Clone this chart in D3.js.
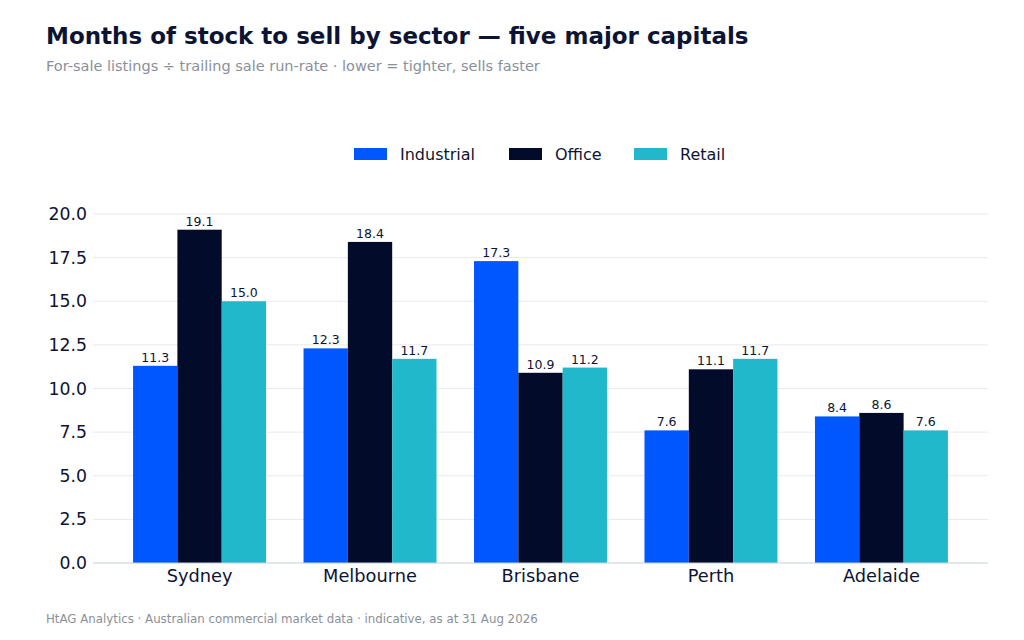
<!DOCTYPE html>
<html lang="en">
<head>
  <meta charset="UTF-8">
  <title>Months of stock to sell by sector</title>
  <script src="https://cdn.jsdelivr.net/npm/d3@7"></script>
  <style>
    body { margin: 0; background: #fff; font-family: "DejaVu Sans", sans-serif; }
  </style>
</head>
<body>
  <svg id="chart"></svg>
  <script>
    // data
    const cities = ['Sydney', 'Melbourne', 'Brisbane', 'Perth', 'Adelaide'];
    const sectors = ['Industrial', 'Office', 'Retail'];
    const industrial = [11.3, 12.3, 17.3, 7.6, 8.4];
    const office = [19.1, 18.4, 10.9, 11.1, 8.6];
    const retail = [15.0, 11.7, 11.2, 11.7, 7.6];
    const yTicks = [0, 2.5, 5, 7.5, 10, 12.5, 15, 17.5, 20];

    const seriesBySector = { Industrial: industrial, Office: office, Retail: retail };
    const colors = { Industrial: '#0057ff', Office: '#020b29', Retail: '#22b8cc' };

    const width = 1024, height = 640;
    const margin = { left: 93, right: 36, top: 214, bottom: 77 };

    const svg = d3.select('#chart').attr('width', width).attr('height', height);

    svg.append('text')
      .attr('x', 46).attr('y', 44)
      .attr('font-size', 23).attr('font-weight', 'bold')
      .attr('fill', '#0d1433')
      .text('Months of stock to sell by sector — five major capitals');

    svg.append('text')
      .attr('x', 46).attr('y', 71)
      .attr('font-size', 14.5)
      .attr('fill', '#8a9099')
      .text('For-sale listings ÷ trailing sale run-rate · lower = tighter, sells faster');

    svg.append('text')
      .attr('x', 46).attr('y', 623)
      .attr('font-size', 11.8)
      .attr('fill', '#8a9099')
      .text('HtAG Analytics · Australian commercial market data · indicative, as at 31 Aug 2026');

    // legend
    const legendX = [354, 509, 634];
    const legend = svg.append('g').selectAll('g')
      .data(sectors)
      .enter()
      .append('g')
      .attr('transform', (d, i) => `translate(${legendX[i]},154)`);
    legend.append('rect')
      .attr('x', 0).attr('y', -6)
      .attr('width', 33).attr('height', 12)
      .attr('fill', d => colors[d]);
    legend.append('text')
      .attr('x', 46).attr('y', 5.5)
      .attr('font-size', 16)
      .attr('fill', '#0d1433')
      .text(d => d);

    // scales
    const plotBottom = height - margin.bottom;
    const y = d3.scaleLinear()
      .domain([0, 20])
      .range([plotBottom, margin.top]);

    const x0 = d3.scaleBand()
      .domain(cities)
      .range([margin.left, width - margin.right])
      .paddingInner(0.22)
      .paddingOuter(0.235);

    const x1 = d3.scaleBand()
      .domain(sectors)
      .range([0, x0.bandwidth()]);

    // grid
    svg.append('g').selectAll('line')
      .data(yTicks.filter(t => t > 0))
      .enter()
      .append('line')
      .attr('x1', margin.left).attr('x2', width - margin.right)
      .attr('y1', d => y(d)).attr('y2', d => y(d))
      .attr('stroke', '#e6e9ee').attr('stroke-width', 1);

    // y axis
    const yAxis = svg.append('g')
      .attr('transform', `translate(${margin.left},0)`)
      .call(d3.axisLeft(y).tickValues(yTicks).tickFormat(d3.format('.1f')).tickSize(0).tickPadding(6));
    yAxis.select('.domain').remove();
    yAxis.selectAll('text')
      .attr('font-family', '"DejaVu Sans", sans-serif')
      .attr('font-size', 17.3)
      .attr('fill', '#0d1433');

    // bars
    const groups = svg.append('g').selectAll('g')
      .data(cities)
      .enter()
      .append('g')
      .attr('transform', d => `translate(${x0(d)},0)`);

    const barData = (city, i) => sectors.map(s => ({ sector: s, value: seriesBySector[s][i] }));

    groups.selectAll('rect')
      .data(barData)
      .enter()
      .append('rect')
      .attr('x', d => x1(d.sector))
      .attr('y', d => y(d.value))
      .attr('width', x1.bandwidth())
      .attr('height', d => plotBottom - y(d.value))
      .attr('fill', d => colors[d.sector]);

    groups.selectAll('text')
      .data(barData)
      .enter()
      .append('text')
      .attr('x', d => x1(d.sector) + x1.bandwidth() / 2)
      .attr('y', d => y(d.value) - 4)
      .attr('text-anchor', 'middle')
      .attr('font-size', 12.5)
      .attr('fill', '#0d1433')
      .text(d => d.value.toFixed(1));

    // x axis
    const xAxis = svg.append('g')
      .attr('transform', `translate(0,${plotBottom})`)
      .call(d3.axisBottom(x0).tickSize(0).tickPadding(6));
    xAxis.select('.domain')
      .attr('d', `M${margin.left},0H${width - margin.right}`)
      .attr('stroke', '#c5cedb');
    xAxis.selectAll('text')
      .attr('font-family', '"DejaVu Sans", sans-serif')
      .attr('font-size', 17.8)
      .attr('fill', '#0d1433');
  </script>
</body>
</html>
